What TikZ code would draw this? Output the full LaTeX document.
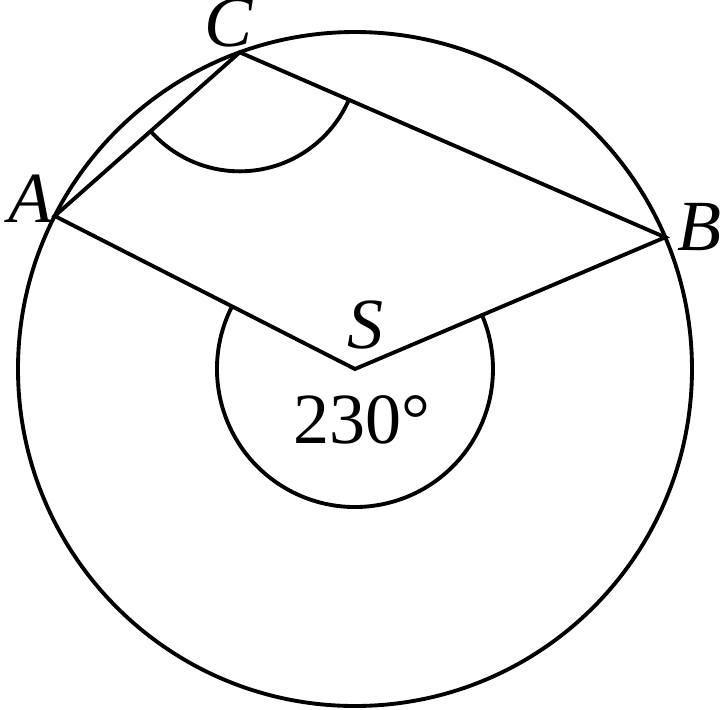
\documentclass[tikz,border=0pt]{standalone}
\usepackage{fontspec}
\setmainfont{Liberation Serif}
\usetikzlibrary{calc}
\usetikzlibrary{angles}
\usetikzlibrary{positioning}
\tikzset{
    lbl/.style={inner sep=1pt,font=\fontsize{20.5pt}{24pt}\selectfont},
    arcs/.style={draw,angle radius=#1}
}
\begin{document}
\begin{tikzpicture}[line width=1.1pt,line join=miter]
            \useasboundingbox (-3.55,-3.40) rectangle (3.66,3.69);
            \def\R{3.37}
            \coordinate (S) at (0,0);
            \coordinate (A) at (153:\R);
            \coordinate (B) at (23:\R);
            \coordinate (C) at (110:\R);
            \draw (S) circle (\R);
            \draw (A) -- (S) -- (B) -- (C) -- cycle;
            \pic[arcs=1.38cm] {angle = A--S--B};
            \pic[arcs=1.19cm] {angle = A--C--B};
            \node[lbl] (lA) [left=-1pt of A,yshift=5pt] {\textit{A}};
            \node[lbl] (lB) [right=2pt of B,yshift=3pt] {\textit{B}};
            \node[lbl] (lC) [above=0pt of C,xshift=-3pt] {\textit{C}};
            \node[lbl] (lS) [above=4pt of S,xshift=3pt] {\textit{S}};
            \node[lbl] (deg) [below=6pt of S,xshift=2pt] {230°};
        \end{tikzpicture}
\end{document}
